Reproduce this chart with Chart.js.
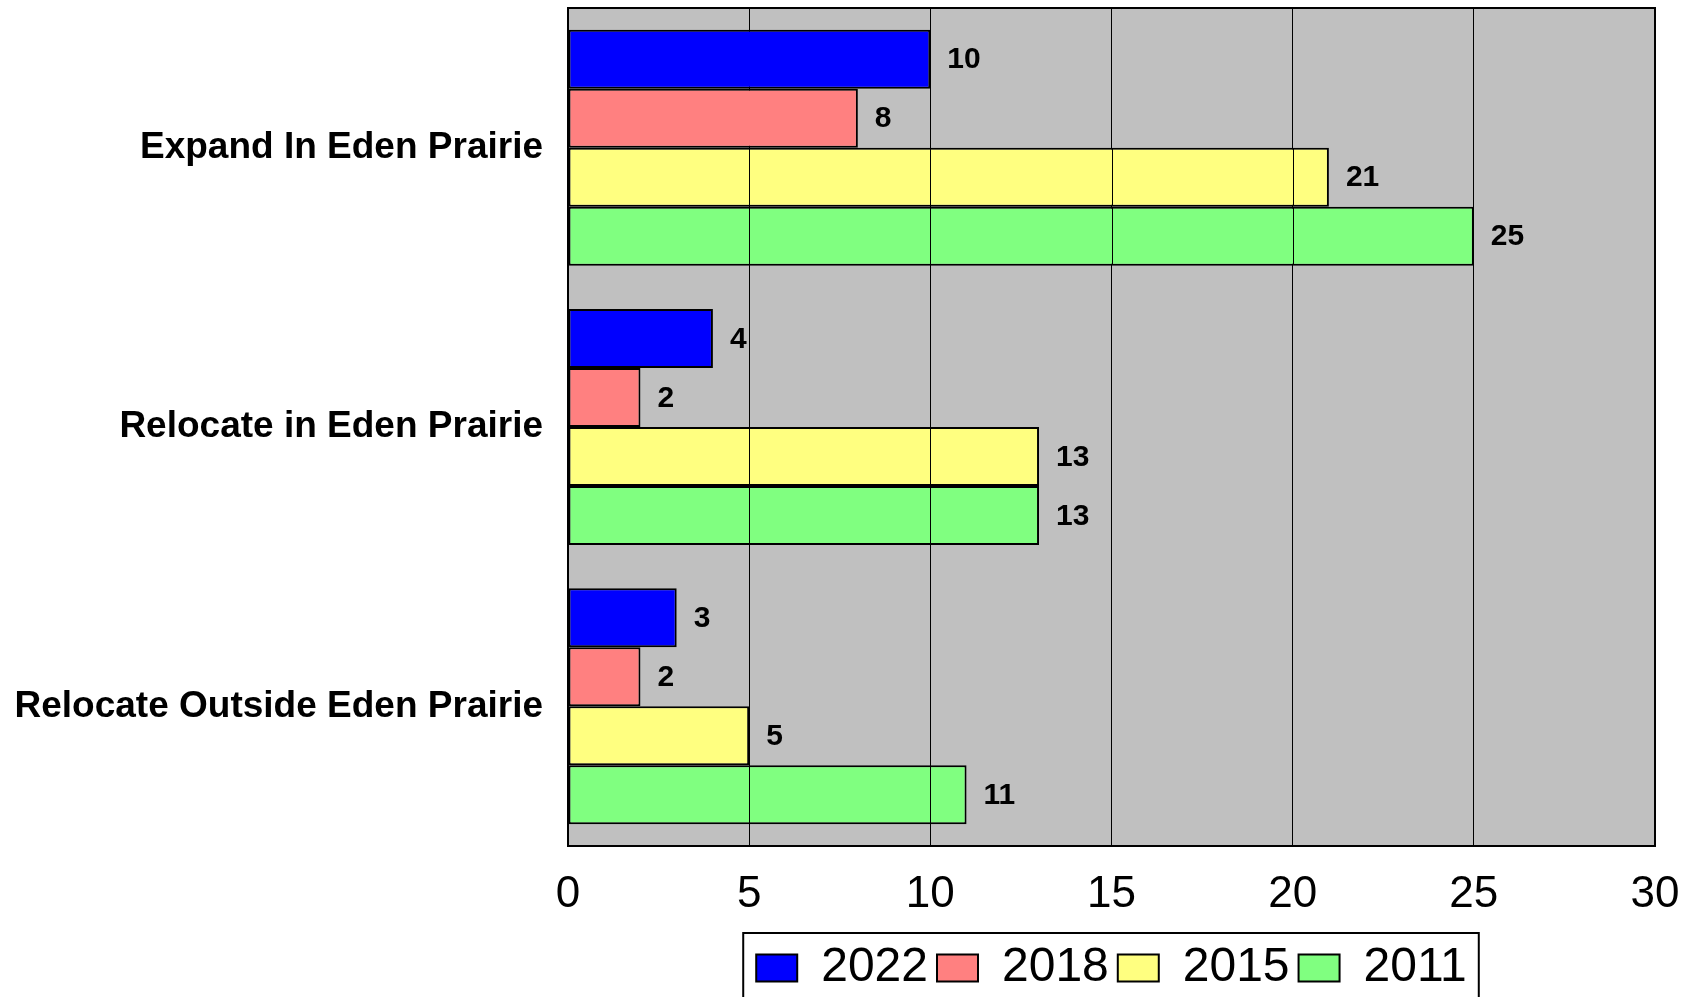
<!DOCTYPE html>
<html>
<head>
<meta charset="utf-8">
<script src="https://cdn.jsdelivr.net/npm/chart.js@4"></script>
<style>
  html, body { margin: 0; padding: 0; background: #fff; }
  #wrap { width: 1698px; height: 997px; }
</style>
</head>
<body>
<div id="wrap"><canvas id="chart-1"></canvas></div>
<script>
// data
const categories = ['Expand In Eden Prairie', 'Relocate in Eden Prairie', 'Relocate Outside Eden Prairie'];
const years = ['2022', '2018', '2015', '2011'];
const values2022 = [10, 4, 3];
const values2018 = [8, 2, 2];
const values2015 = [21, 13, 5];
const values2011 = [25, 13, 11];
const xTicks = [0, 5, 10, 15, 20, 25, 30];

const colors = ['#0000FF', '#FF8080', '#FFFF80', '#80FF80'];
const FONT = '"Liberation Sans", Arial, sans-serif';

// grey plot background + black frame
const plotFrame = {
    id: 'plotFrame',
    beforeDraw(chart) {
        const a = chart.chartArea, c = chart.ctx;
        c.save();
        c.fillStyle = '#C0C0C0';
        c.fillRect(a.left, a.top, a.right - a.left, a.bottom - a.top);
        c.restore();
    },
    afterDatasetsDraw(chart) {
        const a = chart.chartArea, c = chart.ctx;
        const x = chart.scales.x;
        c.save();
        // grid lines show through the 2015 and 2011 bars in the original
        c.strokeStyle = '#000';
        c.lineWidth = 1;
        [2, 3].forEach(di => {
            chart.getDatasetMeta(di).data.forEach(bar => {
                const h = bar.height / 2;
                x.ticks.forEach(t => {
                    const px = Math.round(x.getPixelForValue(t.value)) + 0.5;
                    if (t.value > 0 && px < bar.x - 1) {
                        c.beginPath();
                        c.moveTo(px, bar.y - h + 1);
                        c.lineTo(px, bar.y + h - 1);
                        c.stroke();
                    }
                });
            });
        });
        c.lineWidth = 2;
        c.strokeRect(a.left, a.top, a.right - a.left, a.bottom - a.top);

        // value labels
        c.fillStyle = '#000';
        c.font = 'bold 30px ' + FONT;
        c.textBaseline = 'middle';
        c.textAlign = 'left';
        chart.data.datasets.forEach((ds, di) => {
            chart.getDatasetMeta(di).data.forEach((bar, i) => {
                c.fillText(String(ds.data[i]), bar.x + 17, bar.y + 1);
            });
        });
        c.restore();
    },
    afterDraw(chart) {
        // frame around the legend
        const lg = chart.legend, hb = lg.legendHitBoxes, c = chart.ctx;
        if (!hb || !hb.length) return;
        const last = hb[hb.length - 1];
        const left = hb[0].left - 13;
        const right = last.left + last.width + 12;
        c.save();
        c.strokeStyle = '#000';
        c.lineWidth = 2;
        c.strokeRect(left, 933, right - left, chart.height - 933 + 5);
        c.restore();
    }
};

const ctx = document.getElementById('chart-1');
new Chart(ctx, {
    type: 'bar',
    data: {
        labels: categories,
        datasets: [values2022, values2018, values2015, values2011].map((d, i) => ({
            label: years[i],
            data: d,
            backgroundColor: colors[i],
            borderColor: '#000',
            borderWidth: 2,
            borderSkipped: false,
            barPercentage: 1,
            categoryPercentage: 0.845
        }))
    },
    options: {
        indexAxis: 'y',
        responsive: true,
        maintainAspectRatio: false,
        animation: false,
        layout: { padding: { top: 8, right: 43, left: 0, bottom: -5 } },
        scales: {
            x: {
                min: 0,
                max: 30,
                afterBuildTicks: s => { s.ticks = xTicks.map(v => ({ value: v })); },
                afterFit: s => {
                    s.height = 89;
                    s.paddingLeft = 0;
                    s.paddingRight = 0;
                },
                grid: {
                    color: '#000',
                    lineWidth: 1,
                    drawTicks: false
                },
                border: { display: false },
                ticks: {
                    color: '#000',
                    padding: 22,
                    font: { family: FONT, size: 44 }
                }
            },
            y: {
                afterFit: s => {
                    s.width = 568;
                    s.paddingTop = 0;
                    s.paddingBottom = 0;
                },
                grid: { display: false, drawTicks: false },
                border: { display: false },
                ticks: {
                    color: '#000',
                    padding: 25,
                    font: { family: FONT, size: 37, weight: 'bold' }
                }
            }
        },
        plugins: {
            legend: {
                position: 'bottom',
                fullSize: false,
                labels: {
                    color: '#000',
                    boxWidth: 41,
                    boxHeight: 27,
                    padding: 9,
                    font: { family: FONT, size: 48 }
                }
            },
            tooltip: { enabled: false }
        }
    },
    plugins: [plotFrame]
});
</script>
</body>
</html>
